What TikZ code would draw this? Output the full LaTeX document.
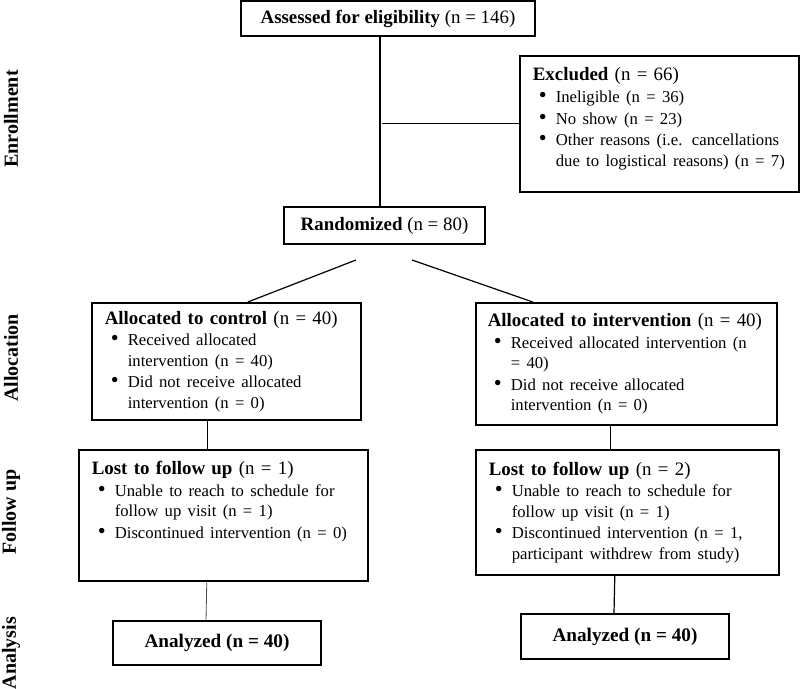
\documentclass[tikz,border=0pt]{standalone}
\usepackage{fontspec}
\setmainfont{Liberation Serif}
\usepackage{enumitem}
\usetikzlibrary{calc}
\setlist[itemize]{label=\scalebox{1.35}{\textbullet}, leftmargin=23pt, labelwidth=14pt, labelsep=9pt, align=right, topsep=1.3pt, partopsep=0pt, parsep=0pt, itemsep=1.4pt}
\newcommand{\headfont}{\fontsize{18.9}{21.6}\selectfont}
\newcommand{\itemfont}{\fontsize{16.7}{20.3}\selectfont}
\newcommand{\anfont}{\fontsize{19.2}{21}\selectfont}
\newcommand{\padbottom}[1]{\par\kern#1\hrule height 0pt width 0pt}
\tikzset{
  flowbox/.style={draw, line width=1.6pt, inner xsep=13pt, inner ysep=4pt, font=\headfont},
  listbox/.style={flowbox, align=left, anchor=north west},
  sidelabel/.style={rotate=90, font=\bfseries\fontsize{20}{22}\selectfont},
  link/.style={line width=1.2pt},
  thinlink/.style={line width=0.8pt, black!70}
}
\begin{document}
\begin{tikzpicture}[x=1pt, y=-1pt]
        \useasboundingbox (0,0) rectangle (800,688);
        % phase labels
        \node[sidelabel] (enrol) at (11,119) {Enrollment};
        \node[sidelabel] (alloc) at (11,358) {Allocation};
        \node[sidelabel] (follow) at (11,512) {Follow up};
        \node[sidelabel] (analys) at (11,653) {Analysis};
        % enrollment
        \node[flowbox, minimum width=294pt, minimum height=35pt] (assess) at (388,18.5) {\textbf{Assessed for eligibility} (n = 146)};
        \node[listbox, text width=253pt, minimum height=136pt] (excl) at (519,55) {\textbf{Excluded} (n = 66)\par
            {\itemfont\begin{itemize}
              \item Ineligible (n = 36)
              \item No show (n = 23)
              \item Other reasons (i.e. cancellations\newline due to logistical reasons) (n = 7)
            \end{itemize}}\padbottom{9pt}};
        \node[flowbox, minimum width=201pt, minimum height=37pt] (rand) at (384.5,225.5) {\textbf{Randomized} (n = 80)};
        % allocation
        \node[listbox, text width=243pt, minimum height=117pt] (ctrl) at (91,302) {\textbf{Allocated to control} (n = 40)\par
            {\itemfont\begin{itemize}
              \item Received allocated\newline intervention (n = 40)
              \item Did not receive allocated\newline intervention (n = 0)
            \end{itemize}}};
        \node[listbox, inner xsep=12pt, text width=277pt, minimum height=122pt] (intv) at (475,302) {\textbf{Allocated to intervention} (n = 40)\par
            {\itemfont\begin{itemize}
              \item Received allocated intervention (n\newline = 40)
              \item Did not receive allocated\newline intervention (n = 0)
            \end{itemize}}};
        % follow up
        \node[listbox, text width=263pt, minimum height=131pt] (ctrlfu) at (78,449) {\textbf{Lost to follow up} (n = 1)\par
            {\itemfont\begin{itemize}
              \item Unable to reach to schedule for\newline follow up visit (n = 1)
              \item Discontinued intervention (n = 0)
            \end{itemize}}\padbottom{26pt}};
        \node[listbox, text width=277pt, minimum height=125pt] (intvfu) at (475,449) {\textbf{Lost to follow up} (n = 2)\par
            {\itemfont\begin{itemize}
              \item Unable to reach to schedule for\newline follow up visit (n = 1)
              \item Discontinued intervention (n = 1,\newline participant withdrew from study)
            \end{itemize}}};
        % analysis
        \node[flowbox, minimum width=208pt, minimum height=44pt, font=\anfont] (ctrlan) at (217,643) {\textbf{Analyzed (n = 40)}};
        \node[flowbox, minimum width=208pt, minimum height=45pt, font=\anfont] (intvan) at (625,636.5) {\textbf{Analyzed (n = 40)}};
        % connectors
        \coordinate (branch) at (382,123);
        \coordinate (lfork) at (356,260);
        \coordinate (rfork) at (412,260);
        \draw[link] ([xshift=-8pt]assess.south) -- ([xshift=-4.5pt]rand.north);
        \draw[link] (excl.west) -- (excl.west -| branch);
        \draw[link] (lfork) -- ([xshift=21.5pt]ctrl.north);
        \draw[link] (rfork) -- ([xshift=-93.5pt]intv.north);
        \draw[link] ([xshift=-18.5pt]ctrl.south) -- ([xshift=-15.5pt]ctrlfu.north);
        \draw[link] ([xshift=-15.5pt]intv.south) -- ([xshift=-16.5pt]intvfu.north);
        \draw[thinlink] ([xshift=-16.5pt]ctrlfu.south) -- ([xshift=-11pt]ctrlan.north);
        \draw[link] ([xshift=-12.5pt]intvfu.south) -- ([xshift=-11pt]intvan.north);
    \end{tikzpicture}
\end{document}
